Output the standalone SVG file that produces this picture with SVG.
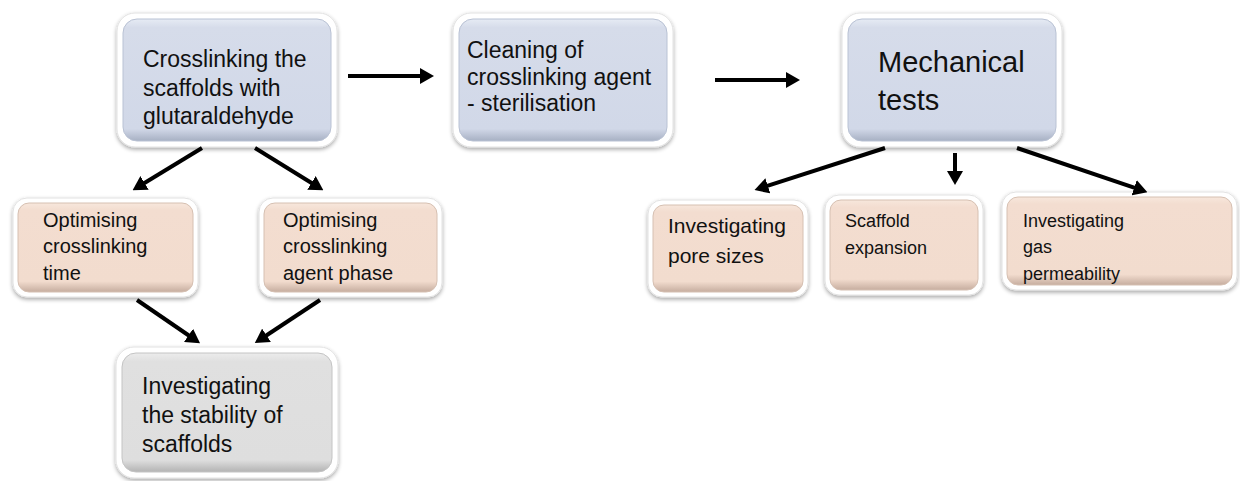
<svg xmlns="http://www.w3.org/2000/svg" width="1240" height="481" viewBox="0 0 1240 481">
<style>
.outer{fill:#ffffff;stroke:#e2e2e2;stroke-width:1;filter:url(#sh)}
.blue{fill:url(#gBlue);stroke:#b9c2d4;stroke-width:1}
.peach{fill:url(#gPeach);stroke:#d6c0b2;stroke-width:1}
.gray{fill:url(#gGray);stroke:#c4c4c4;stroke-width:1}
text{font-family:"Liberation Sans",Arial,sans-serif;fill:#111111}
.conn line{stroke:#000000;stroke-width:4;marker-end:url(#ah)}
</style>
<defs>
<filter id="sh" x="-10%" y="-10%" width="120%" height="125%">
<feGaussianBlur in="SourceAlpha" stdDeviation="2"/>
<feOffset dx="0" dy="1.5" result="b"/>
<feComponentTransfer><feFuncA type="linear" slope="0.35"/></feComponentTransfer>
<feMerge><feMergeNode/><feMergeNode in="SourceGraphic"/></feMerge>
</filter>
<linearGradient id="gBlue" x1="0" y1="0" x2="0" y2="1">
<stop offset="0" stop-color="#e6ebf4"/><stop offset="0.07" stop-color="#d6dcea"/><stop offset="0.9" stop-color="#d1d8e8"/><stop offset="1" stop-color="#a7b0c3"/>
</linearGradient>
<linearGradient id="gPeach" x1="0" y1="0" x2="0" y2="1">
<stop offset="0" stop-color="#f7e7dc"/><stop offset="0.08" stop-color="#f3ddd0"/><stop offset="0.88" stop-color="#f2dcce"/><stop offset="1" stop-color="#c6ad9f"/>
</linearGradient>
<linearGradient id="gGray" x1="0" y1="0" x2="0" y2="1">
<stop offset="0" stop-color="#ececec"/><stop offset="0.07" stop-color="#e0e0e0"/><stop offset="0.9" stop-color="#dedede"/><stop offset="1" stop-color="#b3b3b3"/>
</linearGradient>
<marker id="ah" markerUnits="userSpaceOnUse" markerWidth="14" markerHeight="16" viewBox="0 0 14 16" refX="3" refY="8" orient="auto">
<path d="M0,0 L14,8 L0,16 z" fill="#000000"/>
</marker>
</defs>

<g id="n1">
<rect class="outer" x="117" y="13" width="220" height="134" rx="18"/>
<rect class="blue" x="123" y="19" width="208" height="122" rx="14"/>
<text font-size="23"><tspan x="143" y="67">Crosslinking the</tspan><tspan x="143" y="96">scaffolds with</tspan><tspan x="143" y="124">glutaraldehyde</tspan></text>
</g>
<g id="n2">
<rect class="outer" x="453" y="13" width="220" height="134" rx="18"/>
<rect class="blue" x="459" y="19" width="208" height="122" rx="14"/>
<text font-size="23"><tspan x="467" y="58">Cleaning of</tspan><tspan x="467" y="85">crosslinking agent</tspan><tspan x="467" y="111">- sterilisation</tspan></text>
</g>
<g id="n3">
<rect class="outer" x="842" y="13" width="220" height="134" rx="18"/>
<rect class="blue" x="848" y="19" width="208" height="122" rx="14"/>
<text font-size="29"><tspan x="878" y="72">Mechanical</tspan><tspan x="878" y="110">tests</tspan></text>
</g>
<g id="n4">
<rect class="outer" x="13" y="198" width="185" height="99" rx="14"/>
<rect class="peach" x="18" y="203" width="175" height="89" rx="11"/>
<text font-size="20"><tspan x="43" y="227">Optimising</tspan><tspan x="43" y="253">crosslinking</tspan><tspan x="43" y="280">time</tspan></text>
</g>
<g id="n5">
<rect class="outer" x="259" y="198" width="183" height="99" rx="14"/>
<rect class="peach" x="264" y="203" width="173" height="89" rx="11"/>
<text font-size="20"><tspan x="283" y="227">Optimising</tspan><tspan x="283" y="253">crosslinking</tspan><tspan x="283" y="280">agent phase</tspan></text>
</g>
<g id="n6">
<rect class="outer" x="116" y="347" width="222" height="131" rx="18"/>
<rect class="gray" x="122" y="353" width="210" height="119" rx="14"/>
<text font-size="23"><tspan x="142" y="394">Investigating</tspan><tspan x="142" y="423">the stability of</tspan><tspan x="142" y="452">scaffolds</tspan></text>
</g>
<g id="n7">
<rect class="outer" x="648" y="200" width="160" height="97" rx="14"/>
<rect class="peach" x="653" y="205" width="150" height="87" rx="11"/>
<text font-size="21"><tspan x="668" y="233">Investigating</tspan><tspan x="668" y="263">pore sizes</tspan></text>
</g>
<g id="n8">
<rect class="outer" x="825" y="195" width="158" height="100" rx="14"/>
<rect class="peach" x="830" y="200" width="148" height="90" rx="11"/>
<text font-size="18"><tspan x="845" y="227">Scaffold</tspan><tspan x="845" y="254">expansion</tspan></text>
</g>
<g id="n9">
<rect class="outer" x="1002" y="192" width="235" height="98" rx="14"/>
<rect class="peach" x="1007" y="197" width="225" height="88" rx="11"/>
<text font-size="18"><tspan x="1023" y="227">Investigating</tspan><tspan x="1023" y="253">gas</tspan><tspan x="1023" y="280">permeability</tspan></text>
</g>

<g id="connectors" class="conn">
<line x1="348" y1="76" x2="423" y2="76"/>
<line x1="715" y1="80" x2="789" y2="80"/>
<line x1="202" y1="148" x2="142" y2="184.5"/>
<line x1="255" y1="148" x2="314" y2="184.5"/>
<line x1="885" y1="148" x2="765" y2="186.7"/>
<line x1="955" y1="153" x2="955" y2="174"/>
<line x1="1017" y1="148" x2="1137" y2="188.6"/>
<line x1="137" y1="300" x2="191" y2="337"/>
<line x1="320" y1="300" x2="264" y2="337"/>
</g>
</svg>
